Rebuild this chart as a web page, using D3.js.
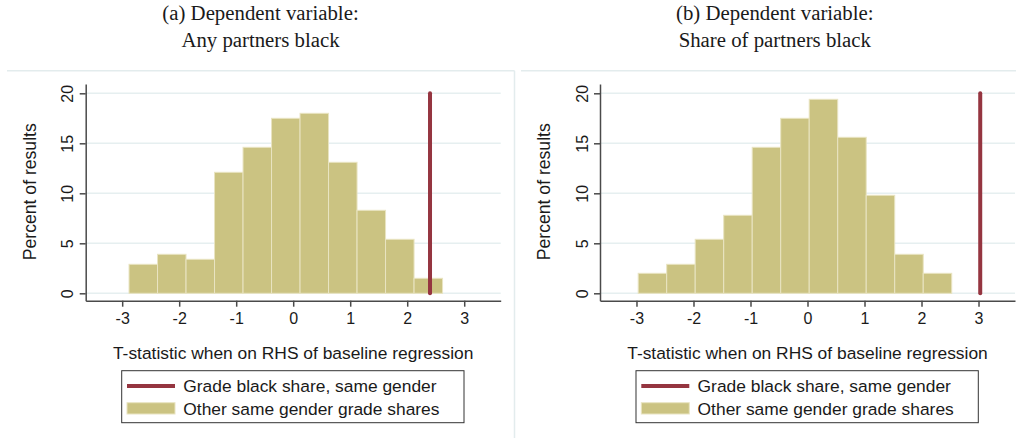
<!DOCTYPE html>
<html>
<head>
<meta charset="utf-8">
<script src="https://cdn.jsdelivr.net/npm/d3@7"></script>
<style>
  body { margin: 0; background: #fff; }
  svg text { fill: #1a1a1a; }
</style>
</head>
<body>
<div id="chart"></div>
<script>
// histogram data (percent of results per bin)
const binWidth = 0.5;
const binStartA = -2.88;
const heightsA = [2.9, 3.9, 3.4, 12.1, 14.6, 17.5, 18.0, 13.1, 8.3, 5.4, 1.5];
const markerA = 2.40;

const binStartB = -2.97;
const heightsB = [2.0, 2.9, 5.4, 7.8, 14.6, 17.5, 19.4, 15.6, 9.8, 3.9, 2.0];
const markerB = 3.03;

const titlesA = ["(a) Dependent variable:", "Any partners black"];
const titlesB = ["(b) Dependent variable:", "Share of partners black"];

const xTicks = [-3, -2, -1, 0, 1, 2, 3];
const yTicks = [0, 5, 10, 15, 20];
const xTitle = "T-statistic when on RHS of baseline regression";
const yTitle = "Percent of results";
const legendLabels = ["Grade black share, same gender", "Other same gender grade shares"];

// styles
const barFill = "#cbc382",
  barEdge = "#e9e4c2",
  redLine = "#953540",
  axisCol = "#4a4a4a",
  gridCol = "#e6eff0",
  frameCol = "#e3eced";
const sans = "'Liberation Sans', Arial, sans-serif";
const serif = "'Liberation Serif', 'Times New Roman', serif";

const W = 1016, H = 438;
const svg = d3.select("#chart").append("svg")
    .attr("width", W)
    .attr("height", H);

// panel frames (stata graph region edges)
svg.append("line").attr("x1", 7).attr("x2", 514.5).attr("y1", 70.7).attr("y2", 70.7)
    .attr("stroke", frameCol).attr("stroke-width", 1.5);
svg.append("line").attr("x1", 514.5).attr("x2", 514.5).attr("y1", 70.7).attr("y2", H)
    .attr("stroke", frameCol).attr("stroke-width", 1.5);
svg.append("line").attr("x1", 521).attr("x2", W).attr("y1", 70.7).attr("y2", 70.7)
    .attr("stroke", frameCol).attr("stroke-width", 1.5);

const drawPanel = (offsetX, titles, binStart, heights, marker) => {
    const g = svg.append("g").attr("transform", "translate(" + offsetX + ",0)");

    const x = d3.scaleLinear().domain([-3.64, 3.64]).range([85.7, 500.7]);
    const y = d3.scaleLinear().domain([-0.74, 20.93]).range([300.7, 84]);

    // title
    g.selectAll(".title")
        .data(titles)
        .enter()
        .append("text")
        .attr("x", 260.5)
        .attr("y", (d, i) => 20 + i * 26.7)
        .attr("text-anchor", "middle")
        .style("font-family", serif)
        .style("font-size", "20.8px")
        .text(d => d);

    // gridlines
    g.selectAll(".grid")
        .data(yTicks)
        .enter()
        .append("line")
        .attr("x1", x.range()[0])
        .attr("x2", x.range()[1])
        .attr("y1", d => y(d))
        .attr("y2", d => y(d))
        .attr("stroke", gridCol)
        .attr("stroke-width", 1.5);

    // bars
    const bins = heights.map((h, i) => ({x0: binStart + i * binWidth, x1: binStart + (i + 1) * binWidth, h: h}));
    g.selectAll(".bar")
        .data(bins)
        .enter()
        .append("rect")
        .attr("x", d => x(d.x0))
        .attr("width", d => x(d.x1) - x(d.x0))
        .attr("y", d => y(d.h))
        .attr("height", d => y(0) - y(d.h))
        .attr("fill", barFill)
        .attr("stroke", barEdge)
        .attr("stroke-width", 1);

    // observed t-statistic
    g.append("line")
        .attr("x1", x(marker)).attr("x2", x(marker))
        .attr("y1", y(0)).attr("y2", y(20))
        .attr("stroke", redLine)
        .attr("stroke-width", 4)
        .attr("stroke-linecap", "round");

    // x axis
    const xAxis = g.append("g")
        .attr("transform", "translate(0," + y.range()[0] + ")")
        .call(d3.axisBottom(x).tickValues(xTicks).tickSize(6).tickSizeOuter(0).tickPadding(6)
              .tickFormat(d => d < 0 ? "-" + Math.abs(d) : d));
    xAxis.select(".domain").attr("stroke", axisCol).attr("stroke-width", 1.5);
    xAxis.selectAll(".tick line").attr("stroke", axisCol).attr("stroke-width", 1.5);
    xAxis.selectAll(".tick text")
        .style("font-family", sans)
        .style("font-size", "16px")
        .attr("fill", "#1a1a1a");

    // y axis
    const yAxis = g.append("g")
        .attr("transform", "translate(" + x.range()[0] + ",0)")
        .call(d3.axisLeft(y).tickValues(yTicks).tickSize(6).tickSizeOuter(0));
    yAxis.select(".domain").attr("stroke", axisCol).attr("stroke-width", 1.5);
    yAxis.selectAll(".tick line").attr("stroke", axisCol).attr("stroke-width", 1.5);
    yAxis.selectAll(".tick text")
        .attr("x", 0).attr("y", 0).attr("dy", null)
        .attr("transform", "translate(-18,0) rotate(-90)")
        .attr("text-anchor", "middle")
        .attr("dominant-baseline", "central")
        .style("font-family", sans)
        .style("font-size", "16px")
        .attr("fill", "#1a1a1a");

    // axis titles
    g.append("text")
        .attr("x", (x.range()[0] + x.range()[1]) / 2)
        .attr("y", 359)
        .attr("text-anchor", "middle")
        .style("font-family", sans)
        .style("font-size", "17.4px")
        .text(xTitle);

    g.append("text")
        .attr("transform", "translate(30," + ((y(0) + y(20)) / 2 - 1.6) + ") rotate(-90)")
        .attr("text-anchor", "middle")
        .attr("dominant-baseline", "central")
        .style("font-family", sans)
        .style("font-size", "17.6px")
        .text(yTitle);

    // legend
    const leg = g.append("g");
    leg.append("rect")
        .attr("x", 121.7).attr("y", 370.7)
        .attr("width", 342.3).attr("height", 52)
        .attr("fill", "#fff")
        .attr("stroke", "#333")
        .attr("stroke-width", 1);
    leg.append("line")
        .attr("x1", 127).attr("x2", 175)
        .attr("y1", 386).attr("y2", 386)
        .attr("stroke", redLine)
        .attr("stroke-width", 4);
    leg.append("rect")
        .attr("x", 127).attr("y", 402.7)
        .attr("width", 48).attr("height", 11.3)
        .attr("fill", barFill)
        .attr("stroke", barEdge)
        .attr("stroke-width", 1);
    leg.selectAll(".legText")
        .data(legendLabels)
        .enter()
        .append("text")
        .attr("x", 183.3)
        .attr("y", (d, i) => 386 + i * 22.7)
        .attr("dominant-baseline", "central")
        .style("font-family", sans)
        .style("font-size", "17.4px")
        .text(d => d);
};

drawPanel(0, titlesA, binStartA, heightsA, markerA);
drawPanel(514.3, titlesB, binStartB, heightsB, markerB);
</script>
</body>
</html>
